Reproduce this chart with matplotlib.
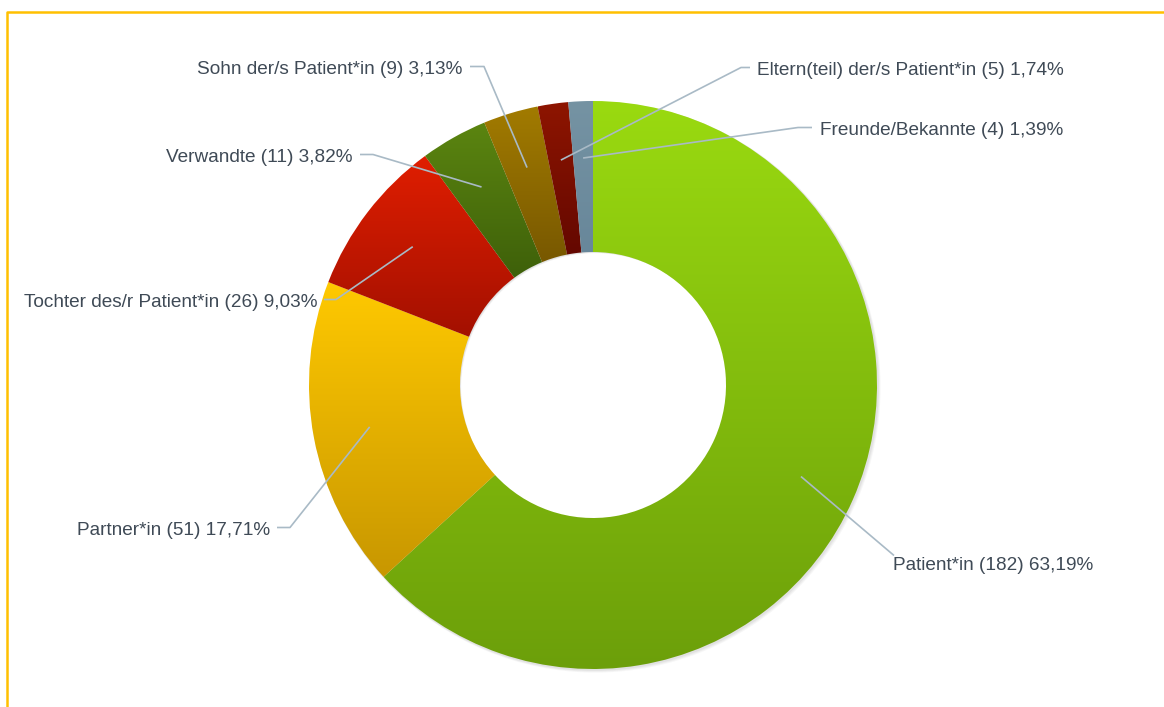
import matplotlib.pyplot as plt
import numpy as np
from decimal import Decimal, ROUND_HALF_UP
from matplotlib.patches import Wedge
from matplotlib.colors import to_rgb

# respondent groups, clockwise from 12 o'clock
labels = ['Patient*in', 'Partner*in', 'Tochter des/r Patient*in', 'Verwandte',
          'Sohn der/s Patient*in', 'Eltern(teil) der/s Patient*in', 'Freunde/Bekannte']
counts = [182, 51, 26, 11, 9, 5, 4]
top_colors = ['#9ada10', '#ffc900', '#e01e00', '#5b8510', '#a27b00', '#8e1500', '#7593a3']
bottom_colors = ['#6c9f0a', '#c89700', '#a31000', '#3e600a', '#785800', '#640800', '#68879a']

W, H = 1164, 707
fig = plt.figure(figsize=(W / 100, H / 100), dpi=100)
ax = fig.add_axes([0, 0, 1, 1])

cx, cy = 593, 322
r_out, r_in = 284, 133

# soft shadow behind the ring
for k, a in [(4, 0.05), (3, 0.06), (2, 0.08)]:
    ax.add_patch(Wedge((cx + k * 0.6, cy - k * 0.6), r_out + k * 0.3, 0, 360,
                       width=r_out - r_in, facecolor='#606060', alpha=a, lw=0))

wedges, _ = ax.pie(counts, center=(cx, cy), radius=r_out, startangle=90,
                   counterclock=False, frame=True,
                   wedgeprops=dict(width=r_out - r_in, linewidth=0))

# vertical gradient fill, clipped to each wedge
for w, c_top, c_bot in zip(wedges, top_colors, bottom_colors):
    bb = w.get_path().get_extents()
    t = np.linspace(0, 1, 256)[:, None, None]
    grad = (1 - t) * np.array(to_rgb(c_bot)) + t * np.array(to_rgb(c_top))
    im = ax.imshow(grad, extent=[bb.x0, bb.x1, bb.y0, bb.y1], origin='lower',
                   aspect='auto', interpolation='bilinear', zorder=w.get_zorder())
    im.set_clip_path(w)
    w.set_facecolor('none')

# label layout: text anchor, alignment, end of the leader near the text
text_pos = [(893, 141.5), (270, 176.5), (317, 404.5), (352, 549.5),
            (462, 637.5), (757, 636.5), (820, 576.5)]
text_ha = ['left', 'right', 'right', 'right', 'right', 'left', 'left']
elbows = [None, (277, 290), (324, 336), (360, 373), (470, 484), (750, 741), (812, 798)]

total = sum(counts)
text_color = '#3f4a56'
line_color = '#a9bac6'
for w, lab, n, (tx, ty), ha, el in zip(wedges, labels, counts, text_pos, text_ha, elbows):
    mid = np.deg2rad((w.theta1 + w.theta2) / 2)
    rr = r_out * 0.8
    tip = (cx + rr * np.cos(mid), cy + rr * np.sin(mid))
    pct = Decimal(100 * n) / Decimal(total)
    pct = str(pct.quantize(Decimal('0.01'), rounding=ROUND_HALF_UP)).replace('.', ',')
    ax.text(tx, ty, f'{lab} ({n}) {pct}%', ha=ha, va='center', fontsize=13.7,
            color=text_color, family='Liberation Sans')
    if el is None:
        xs, ys = [tip[0], tx + 1], [tip[1], ty + 10]
    else:
        xs, ys = [tip[0], el[1], el[0]], [tip[1], ty + 3, ty + 3]
    ax.plot(xs, ys, color=line_color, lw=1.2, solid_capstyle='butt')

# frame lines on the left and top
ax.plot([7, 7, W], [0, H - 12, H - 12], color='#ffc000', lw=1.8, clip_on=False)

ax.set_xlim(0, W)
ax.set_ylim(0, H)
ax.axis('off')

fig.savefig('out.png', dpi=100)
